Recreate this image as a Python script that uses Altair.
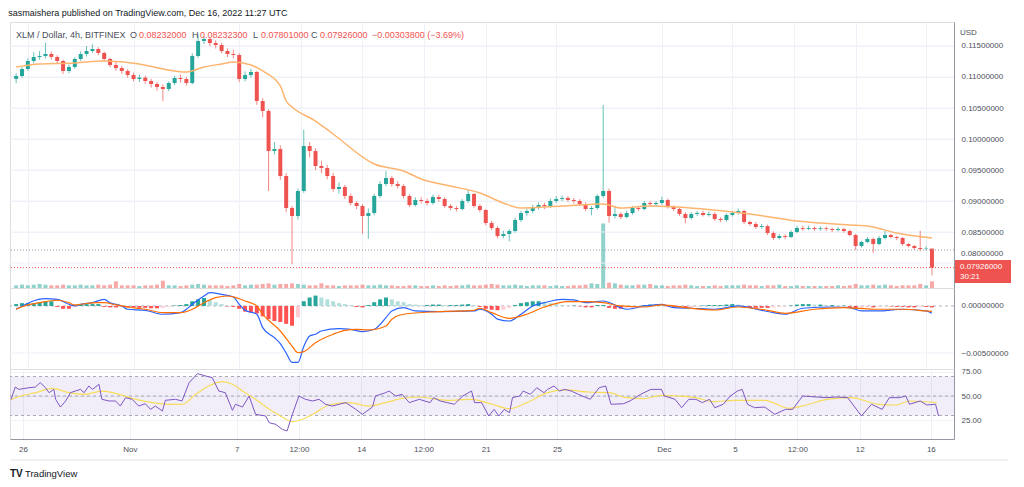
import altair as alt
import numpy as np
import pandas as pd

FONT = "Liberation Sans"
UP, DOWN = "#26a69a", "#ef5350"

# ---------------- data (8h candles from 2022-10-25 08:00 UTC) ----------------
open0 = 0.1097
close = [0.11016, 0.11129, 0.11258, 0.11323, 0.11339, 0.11371, 0.11323, 0.11258, 0.11097, 0.11161,
         0.11290, 0.11371, 0.11419, 0.11452, 0.11387, 0.11290, 0.11194, 0.11145, 0.11097, 0.11032,
         0.10968, 0.10990, 0.10935, 0.10887, 0.10839, 0.10806, 0.10903, 0.10984, 0.10968, 0.10903,
         0.11339, 0.11581, 0.11613, 0.11548, 0.11516, 0.11419, 0.11371, 0.11355, 0.10968, 0.11032,
         0.11081, 0.10613, 0.10452, 0.09806, 0.09839, 0.09403, 0.08887, 0.08758, 0.09161, 0.09887,
         0.09806, 0.09565, 0.09532, 0.09403, 0.09194, 0.09226, 0.09081, 0.08968, 0.08919, 0.08758,
         0.08806, 0.09081, 0.09274, 0.09371, 0.09274, 0.09242, 0.09081, 0.08935, 0.09016, 0.09000,
         0.08968, 0.09065, 0.09032, 0.08919, 0.08887, 0.08871, 0.09000, 0.09113, 0.08919, 0.08855,
         0.08645, 0.08565, 0.08435, 0.08468, 0.08516, 0.08694, 0.08806, 0.08839, 0.08903, 0.08935,
         0.08919, 0.09000, 0.09032, 0.09048, 0.09016, 0.09000, 0.08952, 0.08871, 0.08887, 0.09081,
         0.09161, 0.08758, 0.08790, 0.08742, 0.08806, 0.08887, 0.08871, 0.08968, 0.08950, 0.08968,
         0.09016, 0.08903, 0.08871, 0.08790, 0.08726, 0.08790, 0.08806, 0.08774, 0.08790, 0.08710,
         0.08694, 0.08774, 0.08806, 0.08839, 0.08661, 0.08629, 0.08581, 0.08595, 0.08484, 0.08403,
         0.08435, 0.08420, 0.08500, 0.08565, 0.08550, 0.08565, 0.08548, 0.08560, 0.08548, 0.08532,
         0.08548, 0.08516, 0.08452, 0.08274, 0.08339, 0.08387, 0.08306, 0.08403, 0.08452, 0.08419,
         0.08403, 0.08306, 0.08274, 0.08242, 0.08226, 0.08232, 0.07926]
high = [0.1106, 0.1116, 0.1130, 0.1140, 0.1142, 0.1155, 0.1141, 0.1135, 0.1128, 0.1120,
        0.1132, 0.1141, 0.1150, 0.1153, 0.1148, 0.1141, 0.1131, 0.1124, 0.1118, 0.1113,
        0.1107, 0.1104, 0.1102, 0.1097, 0.1092, 0.1088, 0.1093, 0.1102, 0.1104, 0.1100,
        0.1138, 0.1169, 0.1166, 0.1164, 0.1159, 0.1155, 0.1146, 0.1144, 0.1138, 0.1109,
        0.1113, 0.1110, 0.1066, 0.1048, 0.0995, 0.0990, 0.0945, 0.0892, 0.0920, 0.1015,
        0.0995, 0.0985, 0.0965, 0.0958, 0.0945, 0.0930, 0.0926, 0.0912, 0.0900, 0.0895,
        0.0888, 0.0912, 0.0932, 0.0948, 0.0940, 0.0932, 0.0927, 0.0911, 0.0906, 0.0906,
        0.0904, 0.0910, 0.0910, 0.0906, 0.0895, 0.0892, 0.0903, 0.0918, 0.0913, 0.0895,
        0.0887, 0.0868, 0.0859, 0.0852, 0.0855, 0.0873, 0.0884, 0.0888, 0.0894, 0.0898,
        0.0897, 0.0904, 0.0908, 0.0909, 0.0908, 0.0905, 0.0903, 0.0898, 0.0892, 0.0911,
        0.1055, 0.0920, 0.0892, 0.0882, 0.0884, 0.0892, 0.0892, 0.0900, 0.0900, 0.0900,
        0.0907, 0.0904, 0.0893, 0.0889, 0.0882, 0.0882, 0.0884, 0.0884, 0.0883, 0.0882,
        0.0874, 0.0880, 0.0884, 0.0888, 0.0886, 0.0868, 0.0866, 0.0863, 0.0862, 0.0851,
        0.0847, 0.0846, 0.0853, 0.0860, 0.0860, 0.0860, 0.0859, 0.0859, 0.0859, 0.0857,
        0.0858, 0.0857, 0.0854, 0.0847, 0.0836, 0.0842, 0.0841, 0.0844, 0.0852, 0.0847,
        0.0844, 0.0842, 0.0832, 0.0829, 0.0852, 0.0827, 0.082323]
low = [0.1090, 0.1099, 0.1110, 0.1122, 0.1128, 0.1130, 0.1128, 0.1122, 0.1105, 0.1106,
       0.1113, 0.1126, 0.1133, 0.1139, 0.1135, 0.1125, 0.1116, 0.1110, 0.1105, 0.1099,
       0.1093, 0.1092, 0.1089, 0.1083, 0.1078, 0.1061, 0.1077, 0.1087, 0.1091, 0.1086,
       0.1088, 0.1131, 0.1153, 0.1150, 0.1146, 0.1138, 0.1132, 0.1130, 0.1092, 0.1093,
       0.1099, 0.1055, 0.1035, 0.0916, 0.0975, 0.0934, 0.0882, 0.0798, 0.0870, 0.0913,
       0.0970, 0.0950, 0.0945, 0.0935, 0.0915, 0.0912, 0.0903, 0.0893, 0.0887, 0.0847,
       0.0839, 0.0877, 0.0905, 0.0924, 0.0923, 0.0920, 0.0904, 0.0890, 0.0891, 0.0896,
       0.0893, 0.0894, 0.0899, 0.0889, 0.0885, 0.0883, 0.0885, 0.0897, 0.0889, 0.0882,
       0.0861, 0.0853, 0.0840, 0.0840, 0.0835, 0.0849, 0.0866, 0.0876, 0.0880, 0.0886,
       0.0887, 0.0889, 0.0897, 0.0900, 0.0899, 0.0896, 0.0892, 0.0884, 0.0877, 0.0886,
       0.0905, 0.0865, 0.0872, 0.0871, 0.0872, 0.0878, 0.0884, 0.0885, 0.0892, 0.0892,
       0.0894, 0.0888, 0.0884, 0.0876, 0.0864, 0.0870, 0.0876, 0.0875, 0.0875, 0.0868,
       0.0866, 0.0867, 0.0875, 0.0878, 0.0863, 0.0860, 0.0855, 0.0855, 0.0845, 0.0837,
       0.0838, 0.0839, 0.0840, 0.0848, 0.0852, 0.0853, 0.0852, 0.0852, 0.0852, 0.0850,
       0.0851, 0.0849, 0.0843, 0.0821, 0.0825, 0.0832, 0.0816, 0.0829, 0.0838, 0.0840,
       0.0837, 0.0828, 0.0825, 0.0821, 0.0819, 0.0820, 0.07801]
volume = [4, 5, 4, 5, 6, 5, 4, 4, 5, 4,
          4, 5, 4, 4, 5, 4, 5, 10, 4, 4,
          4, 3, 4, 4, 5, 11, 4, 4, 3, 4,
          5, 6, 5, 4, 4, 4, 3, 4, 6, 4,
          5, 5, 6, 7, 5, 6, 6, 7, 6, 5,
          4, 4, 7, 4, 4, 3, 4, 4, 4, 5,
          4, 4, 5, 4, 4, 3, 3, 4, 4, 3,
          3, 4, 3, 4, 3, 4, 4, 5, 4, 4,
          5, 6, 5, 4, 4, 5, 4, 3, 4, 4,
          4, 3, 4, 3, 3, 4, 4, 5, 7, 6,
          97, 8, 7, 5, 4, 4, 5, 5, 6, 4,
          4, 3, 4, 4, 5, 4, 3, 3, 3, 4,
          3, 4, 4, 4, 5, 4, 4, 3, 4, 4,
          5, 3, 3, 4, 3, 3, 3, 3, 3, 3,
          4, 3, 4, 6, 4, 4, 5, 4, 5, 4,
          3, 4, 4, 4, 6, 4, 10]
# MACD histogram, in units of 1e-4
hist = [2, 3, 3, 3, 4, 5, 5, -1, -3, -3,
        -1, 2, 2, 2, 2, -1, -1.5, -1.5, -1, -1.5,
        -1.5, -2, -2, -2.5, -2.5, -2, -1, 0.5, 1, 2,
        5, 7, 8.5, 6, 4, 2, -0.5, -1, -3, -6,
        -7, -8, -11, -14, -16, -17, -19, -21, -12, 5,
        9, 11, 9, 7, 5, 3, 2, 1, -1, -1.5,
        1, 4, 7, 9, 7, 5, 4, 2, 1.5, 1,
        1, 1.5, 1.5, 1, 1, 1, 1.5, 2, 1, -1,
        -3, -4, -4.5, -4, -2, 1, 3, 4, 5, 5,
        4, 3, 2, 1, 0.5, 0.5, -0.5, -1.5, -1.5, 1,
        1, -2, -3, -3, -2, -1.5, -1, 1, 1.5, 1.5,
        1, -0.5, -1, -1.5, -1.5, -1, -0.5, 0.5, 1, 1,
        1, 1.5, 2, 1.5, -1, -2, -2, -2, -2, -1.5,
        -1, -0.5, 0.5, 1.5, 2, 2, 1.5, 1.5, 1, 1,
        0.5, 0.5, -1, -2.5, -2, -1.5, -1.5, -1, -0.5, -0.5,
        -1, -1, -1.5, -1.5, -1, -1, -1.5]

ma_i = [0, 4, 10, 15, 21, 25, 29, 32, 35, 37, 40, 42, 45, 46, 47, 51, 54, 61, 66, 69, 74, 79, 83, 86,
        93, 100, 103, 108, 117, 125, 133, 142, 145, 150, 156]
ma_v = [0.11161, 0.11210, 0.11226, 0.11258, 0.11210, 0.11129, 0.11081, 0.11161, 0.11210, 0.11242,
        0.11194, 0.11097, 0.10855, 0.10613, 0.10516, 0.10290, 0.10081, 0.09597, 0.09484, 0.09355,
        0.09242, 0.09129, 0.08968, 0.08887, 0.08919, 0.08952, 0.08887, 0.08919, 0.08871, 0.08790,
        0.08677, 0.08613, 0.08597, 0.08484, 0.08403]

macd_i = [0, 5, 7, 9, 10, 11, 13, 15, 16, 18, 19, 22, 25, 28, 29, 30, 32, 33, 35, 37, 38, 39, 41, 42,
          44, 45, 46, 47, 48, 49, 50, 51, 52, 55, 57, 59, 61, 63, 64, 66, 68, 72, 78, 79, 81, 82, 84,
          86, 88, 90, 93, 95, 97, 100, 103, 104, 107, 110, 112, 115, 119, 123, 127, 129, 131, 134,
          139, 142, 144, 147, 151, 155, 156]
macd_v = [-3.5, 7.8, 7.1, 1.8, 0, 1.8, 3.5, 7.1, 3.5, 0, -3.5, -4.6, -8.8, -7.1, -3.5, 1.8, 10.6,
          14.2, 12.4, 9.6, 1.8, -4.6, -8.8, -23, -33.7, -40, -50, -60, -60, -43, -32, -30, -26.6,
          -24, -24.8, -27.3, -24.8, -12.4, -5.3, -1.8, -5.3, -6, -5.3, -3.5, -8.8, -14, -16, -8.8,
          0, 3.5, 7.1, 6.4, 3.5, 5.3, -1.8, -3.5, 0, 1.8, -1.8, -2.4, -3.5, 0, -4.6, -7.1, -8.8,
          -2.4, -1.1, -1.8, -5.3, -5.3, -3.5, -5.3, -7.8]
sig_i = [0, 2, 4, 7, 9, 10, 11, 14, 15, 17, 19, 22, 25, 28, 30, 32, 34, 36, 37, 39, 41, 42, 45, 47,
         48, 49, 51, 54, 56, 58, 60, 63, 64, 66, 72, 78, 79, 81, 84, 87, 90, 94, 97, 100, 103, 107,
         110, 114, 119, 123, 128, 131, 136, 141, 146, 151, 155, 156]
sig_v = [-3.5, 1.1, 3.5, 6.1, 3.5, 1.1, 1.8, 3.5, 3.5, 1.1, -1.1, -3.5, -7.1, -7.1, -3.5, 3.5, 8.8,
         10.6, 9.6, 5.3, 0, -8.8, -26.6, -42.6, -49.7, -48.6, -39, -30, -25.9, -24.8, -25.5, -21.3,
         -14.2, -8.8, -6, -4.6, -2.4, -7.1, -13.1, -8.8, -1.1, 4.6, 4.6, 3.5, 0, -1.1, 1.1, -1.8,
         -4.3, -1.1, -4.6, -7.8, -3.5, -1.8, -3.5, -3.5, -5.3, -5.8]

rsi_i = [0, 0.7, 1.3, 3.0, 4.1, 4.9, 5.8, 6.4, 7.2, 7.5, 8.3, 9.2, 10.0, 10.8, 11.7, 12.3, 13.1, 13.7,
         14.8, 15.3, 16.5, 17.6, 18.4, 19.3, 20.4, 21.5, 22.6, 23.5, 24.3, 25.5, 26.0, 27.7, 28.8,
         30.0, 31.4, 32.8, 33.9, 35.0, 36.1, 37.3, 37.8, 39.0, 40.1, 41.2, 42.9, 43.5, 44.6, 45.7,
         46.5, 47.4, 48.5, 49.6, 50.8, 51.9, 53.0, 54.1, 55.3, 56.4, 58.1, 59.2, 60.9, 61.4, 63.1,
         63.7, 64.8, 65.9, 67.1, 68.8, 70.6, 71.2, 72.3, 73.5, 74.7, 76.1, 77.6, 78.1, 79.3, 80.5,
         81.4, 82.2, 83.1, 84.0, 84.5, 85.7, 86.3, 87.5, 88.6, 89.8, 90.4, 91.5, 92.4, 93.3, 94.4,
         95.6, 97.6, 99.1, 100.2, 101.1, 103.2, 104.3, 106.1, 107.8, 109.6, 110.1, 111.9, 113.0,
         114.2, 115.4, 116.5, 117.7, 118.6, 120.0, 121.2, 122.4, 123.2, 124.1, 125.3, 127.0, 128.7,
         130.5, 131.7, 133.4, 135.7, 137.5, 139.2, 141.0, 143.3, 145.0, 146.8, 148.0, 149.7, 150.8,
         151.4, 153.2, 154.3, 155.8, 156.3]
rsi_v = [46.6, 59.2, 56.8, 58.5, 59.2, 63.7, 58.5, 53.4, 56.8, 46.6, 38.7, 44.9, 53.4, 55.1, 56.8,
         53.4, 60.3, 56.8, 62, 46.6, 44.9, 44.9, 39.7, 48.3, 46.6, 39.7, 42.1, 36.3, 39.7, 34.6,
         45.6, 46.6, 44.9, 63.7, 72.9, 70.5, 68.8, 55.1, 53.4, 35.3, 41.5, 38.7, 50, 31.2, 29.5,
         22.6, 20.9, 15.8, 14.1, 31.2, 50, 46.6, 44.9, 46.6, 41.5, 39.7, 41.5, 43.2, 36.3, 31.2,
         38.7, 50, 53.4, 55.1, 50, 51.7, 43.2, 46.6, 43.2, 48.3, 44.9, 43.2, 41.5, 50, 55.1, 43.2,
         43.2, 29.5, 36.3, 29.5, 36.3, 32.9, 48.3, 50, 55.1, 51.7, 58.5, 53.4, 56.8, 60.3, 55.1,
         56.8, 55.1, 51.7, 46.6, 58.5, 60.3, 41.5, 42.1, 44.9, 51.7, 56.8, 56.8, 50, 46.6, 38,
         46.6, 46.6, 43.2, 46.6, 38, 41.5, 50, 55.1, 56.8, 41.5, 38, 38.7, 31.2, 36.3, 36.3, 50,
         49, 48.3, 49, 48.3, 29.5, 41.5, 36.3, 48.3, 48.3, 50, 41.5, 44.9, 40.8, 41.5, 29.5]
rma_i = [0, 1.7, 4.1, 6.9, 9.7, 12.5, 15.3, 18.2, 21.0, 23.8, 26.6, 28.8, 31.1, 33.3, 35.6, 37.3,
         39.0, 41.2, 43.5, 45.7, 47.4, 49.1, 51.3, 53.6, 57.0, 60.3, 63.1, 65.9, 68.8, 73.5, 77.6,
         81.1, 84.0, 86.9, 90.4, 93.3, 97.3, 100.8, 103.7, 106.6, 109.6, 112.5, 115.4, 118.3,
         121.8, 127.0, 131.1, 134.0, 137.5, 141.5, 146.2, 149.1, 151.4, 156.0]
rma_v = [46.6, 50, 53.4, 57.9, 53.4, 51.7, 55.1, 51.7, 46.6, 43.2, 41.5, 41.5, 51.7, 60.3, 64.7, 62,
         55.1, 46.6, 36.3, 28.5, 23.7, 26.1, 32.9, 40.8, 43.2, 39.7, 43.2, 47.6, 49, 45.6, 46.6,
         41.5, 37, 43.2, 53.4, 56.2, 54.1, 53.4, 48.3, 47.3, 50.7, 50, 48.3, 44.2, 45.6, 45.6,
         37.4, 40.8, 46.6, 48.3, 41.5, 40.8, 44.9, 43.2]

price_ticks = [0.085, 0.090, 0.095, 0.100, 0.105, 0.110, 0.115]
price_grid = [0.080] + price_ticks
prev_close_line = 0.0821
last_close = 0.07926
tick_dates = [(10, 26, 0), (11, 1, 0), (11, 7, 0), (11, 10, 12), (11, 14, 0), (11, 17, 12),
              (11, 21, 0), (11, 25, 0), (12, 1, 0), (12, 5, 0), (12, 8, 12), (12, 12, 0), (12, 16, 0)]

# ---------------- frames ----------------
T0 = pd.Timestamp("2022-10-25 08:00")


def ts(idx):
    idx = np.asarray(idx, dtype=float)
    return [(T0 + pd.Timedelta(hours=8 * float(v))).strftime("%Y-%m-%dT%H:%M:%SZ") for v in idx]


n = len(close)
opens = [open0] + close[:-1]
df = pd.DataFrame({"t": ts(range(n)), "o": opens, "c": close, "hi": high, "lo": low,
                   "vol": volume, "h": [v * 1e-4 for v in hist]})
df["col"] = np.where(df["c"] >= df["o"], UP, DOWN)
hcol = []
prev = 0.0
for v in df["h"]:
    if v >= 0:
        hcol.append("#26a69a" if v >= prev else "#b2dfdb")
    else:
        hcol.append("#ff5252" if v <= prev else "#ffcdd2")
    prev = v
df["hcol"] = hcol

ma_df = pd.DataFrame({"t": ts(ma_i), "v": ma_v})
macd_df = pd.DataFrame({"t": ts(macd_i), "v": [v * 1e-4 for v in macd_v]})
sig_df = pd.DataFrame({"t": ts(sig_i), "v": [v * 1e-4 for v in sig_v]})
rsi_df = pd.DataFrame({"t": ts(rsi_i), "v": rsi_v})
rma_df = pd.DataFrame({"t": ts(rma_i), "v": rma_v})

# ---------------- scales / axes ----------------
W = 944
H_PRICE, H_MACD, H_RSI = 266, 81, 70

xscale = alt.Scale(type="utc", domain=[
    alt.DateTime(year=2022, month=10, date=25, hours=6, minutes=29, utc=True),
    alt.DateTime(year=2022, month=12, date=17, hours=7, minutes=14, utc=True)])
xticks = [alt.DateTime(year=2022, month=m, date=d, hours=h, utc=True) for m, d, h in tick_dates]
GRID = "#eef1f7"
xgrid = alt.Axis(values=xticks, labels=False, ticks=False, domain=False, grid=True,
                 gridColor=GRID, title=None)
xbottom = alt.Axis(values=xticks, grid=True, gridColor=GRID, ticks=False, domain=True,
                   domainColor="#9598a1", labelColor="#4c4f5a", labelFontSize=8, labelFont=FONT,
                   labelPadding=6, title=None,
                   labelExpr="utchours(datum.value) == 12 ? '12:00' : (utcdate(datum.value) == 1 ? "
                             "utcFormat(datum.value, '%b') : utcFormat(datum.value, '%-d'))")


def yaxis(values, fmt, grid=True):
    return alt.Axis(orient="right", values=values, format=fmt, grid=grid, gridColor=GRID,
                    ticks=False, domain=True, domainColor="#9598a1", labelColor="#4c4f5a",
                    labelFontSize=8, labelFont=FONT, labelPadding=7, title=None, zindex=0,
                    labelOverlap=False, labelBound=False)


def X(axis=xgrid):
    return alt.X("t:T", scale=xscale, axis=axis)


def label(text, x, y, color, size=9, weight="normal", align="left"):
    return alt.Chart(pd.DataFrame({"s": [text]})).mark_text(
        align=align, baseline="middle", fontSize=size, color=color, font=FONT,
        fontWeight=weight).encode(x=alt.value(x), y=alt.value(y), text="s:N")


# ---------------- price pane ----------------
yprice = alt.Scale(domain=[0.07597, 0.11887])
base = alt.Chart(df)
wick = base.mark_rule(strokeWidth=1, opacity=0.7).encode(
    x=X(), y=alt.Y("lo:Q", scale=yprice, axis=yaxis(price_ticks, ".8f")), y2="hi:Q",
    color=alt.Color("col:N", scale=None))
body = base.mark_bar(size=4).encode(
    x=X(), y=alt.Y("o:Q", scale=yprice), y2="c:Q", color=alt.Color("col:N", scale=None))
ma_line = alt.Chart(ma_df).mark_line(color="#fdb46f", strokeWidth=1.5, interpolate="monotone").encode(
    x=X(), y=alt.Y("v:Q", scale=yprice))
hgrid = alt.Chart(pd.DataFrame({"v": price_grid})).mark_rule(color=GRID).encode(
    y=alt.Y("v:Q", scale=yprice))
gray_dot = alt.Chart(pd.DataFrame({"v": [prev_close_line]})).mark_rule(
    color="#9598a1", strokeDash=[1, 2], strokeWidth=1).encode(y=alt.Y("v:Q", scale=yprice))
red_dot = alt.Chart(pd.DataFrame({"v": [last_close]})).mark_rule(
    color=DOWN, strokeDash=[1, 2], strokeWidth=1).encode(y=alt.Y("v:Q", scale=yprice))

price_box = alt.Chart(pd.DataFrame({"a": [1]})).mark_rect(color=DOWN).encode(
    x=alt.value(945), x2=alt.value(1001), y=alt.value(238), y2=alt.value(261))
texts = [
    label("XLM / Dollar, 4h, BITFINEX", 6, 13, "#4a4e59"),
    label("O", 120, 13, "#4a4e59"), label("0.08232000", 129, 13, DOWN),
    label("H", 182, 13, "#4a4e59"), label("0.08232300", 190, 13, DOWN),
    label("L", 243, 13, "#4a4e59"), label("0.07801000", 251, 13, DOWN),
    label("C", 301, 13, "#4a4e59"), label("0.07926000", 310, 13, DOWN),
    label("\u22120.00303800 (\u22123.69%)", 362, 13, DOWN),
    label("USD", 950, 11, "#4c4f5a", size=8),
    label("0.08000000", 951, 232, "#4c4f5a", size=8),
    label("0.07926000", 950, 245, "white", size=8),
    label("30:21", 950, 255, "white", size=8),
]
price_inner = alt.layer(hgrid, wick, body, ma_line, gray_dot, red_dot, price_box, *texts)
vol = base.mark_bar(size=4, opacity=0.5).encode(
    x=X(), y=alt.Y("vol:Q", scale=alt.Scale(domain=[0, 400]), axis=None),
    color=alt.Color("col:N", scale=None))
price = alt.layer(vol, price_inner).resolve_scale(y="independent").properties(
    width=W, height=H_PRICE)

# ---------------- MACD pane ----------------
ymacd = alt.Scale(domain=[-0.0067, 0.00191])
macd_axis = yaxis([-0.005, 0.0], ".8f", grid=False)
hbars = alt.Chart(df).mark_bar(size=4).encode(
    x=X(), y=alt.Y("h:Q", scale=ymacd, axis=macd_axis),
    color=alt.Color("hcol:N", scale=None))
macd_grid = alt.Chart(pd.DataFrame({"v": [-0.005]})).mark_rule(color=GRID).encode(
    y=alt.Y("v:Q", scale=ymacd, axis=macd_axis))
macd_zero = alt.Chart(pd.DataFrame({"v": [0.0]})).mark_rule(
    color="#b2b5be", strokeDash=[3, 3]).encode(y=alt.Y("v:Q", scale=ymacd, axis=macd_axis))
macd_line = alt.Chart(macd_df).mark_line(color="#2962ff", strokeWidth=1.2, interpolate="monotone").encode(
    x=X(), y=alt.Y("v:Q", scale=ymacd, axis=macd_axis))
sig_line = alt.Chart(sig_df).mark_line(color="#ff6d00", strokeWidth=1.2, interpolate="monotone").encode(
    x=X(), y=alt.Y("v:Q", scale=ymacd, axis=macd_axis))
macd = alt.layer(macd_grid, macd_zero, hbars, macd_line, sig_line).properties(width=W, height=H_MACD)

# ---------------- RSI pane ----------------
yrsi = alt.Scale(domain=[5.9, 77.7])
rsi_axis = yaxis([25, 50, 75], ".2f")
band = alt.Chart(pd.DataFrame({"a": [30], "b": [70]})).mark_rect(color="#7e57c2", opacity=0.1).encode(
    y=alt.Y("a:Q", scale=yrsi, axis=rsi_axis), y2="b:Q")
levels = alt.Chart(pd.DataFrame({"v": [30, 50, 70]})).mark_rule(
    color="#9598a1", strokeDash=[3, 3], opacity=0.8).encode(y=alt.Y("v:Q", scale=yrsi, axis=rsi_axis))
rsi_line = alt.Chart(rsi_df).mark_line(color="#7e57c2", strokeWidth=1).encode(
    x=X(xbottom), y=alt.Y("v:Q", scale=yrsi, axis=rsi_axis))
rma_line = alt.Chart(rma_df).mark_line(color="#f7dc5a", strokeWidth=1.2, interpolate="monotone").encode(
    x=X(xbottom), y=alt.Y("v:Q", scale=yrsi, axis=rsi_axis))
bottom_line = alt.Chart(pd.DataFrame({"a": [1]})).mark_rule(color="#e0e3eb").encode(
    x=alt.value(0), x2=alt.value(998), y=alt.value(91))
footer = [label("TV", 0, 105, "#131722", size=10, weight="bold"),
          label("TradingView", 15, 105, "#131722", size=9.5)]
rsi = alt.layer(band, levels, rma_line, rsi_line, bottom_line, *footer).properties(
    width=W, height=H_RSI)

chart = alt.vconcat(price, macd, rsi, spacing=0, bounds="flush").properties(
    title=alt.TitleParams("sasmaishera published on TradingView.com, Dec 16, 2022 11:27 UTC",
                          anchor="start", fontSize=9, fontWeight="normal", color="#131722",
                          font=FONT, offset=4),
    padding={"left": 0, "top": 0, "right": 0, "bottom": 0},
).configure_view(stroke="#e0e3eb").configure_axis(labelOverlap=False).configure(background="white")

chart.save("out.html", embed_options={"renderer": "svg", "actions": False})
